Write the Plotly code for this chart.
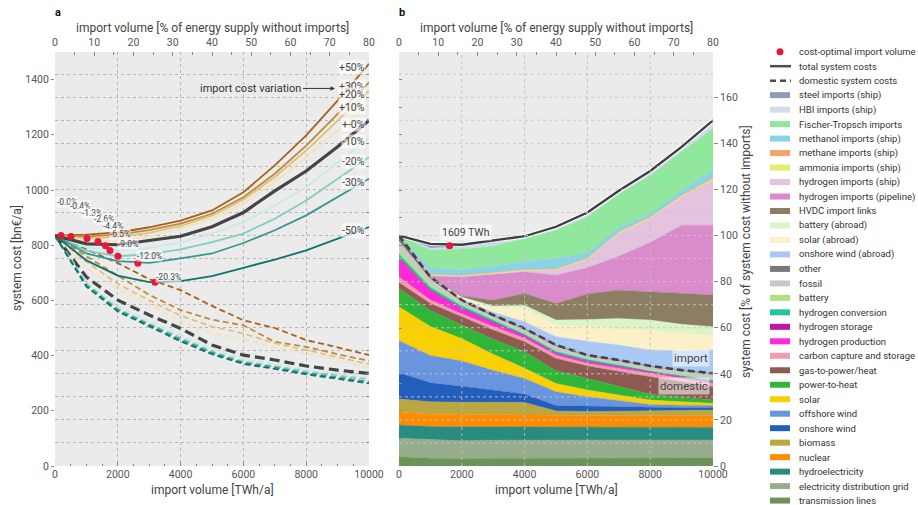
import plotly.graph_objects as go

W, H = 918, 505
FONT = "Roboto"

# ---------------------------------------------------------------- data
volume = [0, 1000, 2000, 3000, 4000, 5000, 6000, 7000, 8000, 9000, 10000]  # TWh/a
base_cost = 835  # bn€/a, system cost without imports
volume_pct_max = 80  # import volume 10000 TWh/a in % of energy supply without imports

variations = ["+50%", "+30%", "+20%", "+10%", "+-0%", "-10%", "-20%", "-30%", "-50%"]
variation_colors = ["#a6611a", "#c28a38", "#dfc27d", "#f3e3b8", "#444444",
                    "#c7eae5", "#80cdc1", "#35978f", "#0f7367"]

# total system cost [bn€/a] per import cost variation (+-0% comes from the breakdown)
total_p50 = [835, 838, 846, 865, 889, 926, 992, 1089, 1198, 1324, 1457]
total_p30 = [835, 831, 838, 855, 878, 914, 974, 1059, 1161, 1276, 1390]
total_p20 = [835, 825, 830, 845, 870, 907, 965, 1047, 1143, 1252, 1360]
total_p10 = [835, 813, 816, 832, 860, 895, 950, 1029, 1119, 1216, 1312]
total_m10 = [835, 792, 781, 790, 810, 842, 884, 944, 1010, 1101, 1189]
total_m20 = [835, 780, 760, 768, 785, 811, 842, 896, 962, 1041, 1119]
total_m30 = [835, 770, 742, 736, 752, 770, 808, 854, 908, 974, 1041]
total_m50 = [835, 745, 690, 666, 670, 688, 718, 748, 781, 824, 866]

# domestic system cost [bn€/a] per import cost variation
domestic_p50 = [835, 785, 735, 677, 637, 580, 528, 500, 456, 430, 402]
domestic_p30 = [835, 760, 690, 620, 565, 530, 510, 450, 432, 405, 381]
domestic_p20 = [835, 740, 660, 600, 545, 505, 480, 445, 420, 395, 369]
domestic_p10 = [835, 720, 640, 585, 525, 480, 460, 430, 408, 385, 356]
domestic_m10 = [835, 668, 580, 525, 475, 425, 385, 370, 348, 335, 321]
domestic_m20 = [835, 660, 570, 515, 465, 415, 378, 362, 342, 328, 314]
domestic_m30 = [835, 655, 565, 510, 458, 410, 374, 357, 336, 321, 305]
domestic_m50 = [835, 650, 560, 505, 452, 405, 370, 352, 332, 316, 299]

# cost-optimal import volume [TWh/a] and cost change [%] per variation
opt_volume = [190, 510, 1020, 1370, 1609, 1750, 2005, 2640, 3185]
opt_change = [-0.0, -0.4, -1.3, -2.6, -4.4, -6.5, -9.0, -12.0, -20.3]

# cost breakdown for +-0%, % of system cost without imports
transmission_lines = [4.0, 3.4, 3.3, 3.3, 3.3, 3.3, 3.3, 3.3, 3.3, 3.3, 3.5]
distribution_grid = [8.0, 8.1, 7.7, 7.9, 8.0, 8.0, 8.0, 8.0, 8.0, 8.0, 7.8]
hydroelectricity = [5.8, 5.6, 6.0, 5.8, 5.5, 5.5, 5.5, 5.5, 5.5, 5.5, 5.5]
nuclear = [5.6, 5.4, 5.5, 5.3, 5.3, 5.1, 5.1, 5.1, 5.1, 5.1, 5.0]
biomass = [5.7, 5.4, 5.2, 5.3, 5.5, 2.0, 1.7, 1.9, 2.1, 2.2, 2.5]
onshore_wind = [11.4, 8.2, 6.9, 5.4, 3.6, 2.3, 2.4, 1.8, 1.3, 1.2, 1.0]
offshore_wind = [13.9, 11.9, 11.0, 8.5, 6.8, 6.0, 4.1, 2.7, 1.4, 1.1, 0.9]
solar = [14.7, 12.5, 9.7, 7.0, 4.4, 3.6, 2.9, 2.5, 1.9, 1.5, 1.0]
power_to_heat = [7.9, 7.0, 5.9, 6.5, 7.2, 5.5, 5.0, 3.7, 2.5, 1.9, 1.4]
gas_to_power = [2.6, 3.0, 3.6, 4.0, 4.3, 5.4, 5.4, 6.5, 7.6, 6.8, 5.8]
carbon_capture = [2.4, 1.5, 1.2, 1.5, 1.5, 1.4, 1.1, 1.4, 1.5, 1.4, 1.5]
h2_production = [8.0, 4.0, 2.1, 1.7, 1.0, 0.7, 0.8, 0.6, 0.4, 0.4, 0.3]
h2_storage = [0.5, 0.4, 0.3, 0.3, 0.2, 0.2, 0.2, 0.2, 0.2, 0.2, 0.2]
h2_conversion = [1.5, 1.2, 1.1, 1.0, 0.7, 0.8, 0.8, 0.7, 0.5, 0.7, 0.9]
battery = [2.0, 1.0, 0.5, 0.4, 0.3, 0.3, 0.2, 0.2, 0.2, 0.2, 0.2]
fossil = [3.5, 2.5, 1.5, 1.2, 1.6, 1.9, 1.2, 1.5, 1.5, 1.7, 2.2]
other = [2.5, 0.9, 0.5, 0.4, 0.5, 0.5, 0.4, 0.4, 0.4, 0.4, 0.5]

onwind_abroad = [0, 0, 0.3, 1.2, 2.9, 3.6, 6.0, 6.5, 6.9, 8.4, 10.1]
solar_abroad = [0, 0, 0.7, 2.0, 5.8, 5.0, 6.5, 7.2, 8.7, 7.5, 6.5]
battery_abroad = [0, 0, 0.3, 0.7, 1.4, 2.2, 3.0, 4.3, 4.3, 4.0, 3.6]
hvdc_links = [0, 0, 0.5, 2.5, 5.1, 7.2, 11.0, 12.3, 12.3, 13.5, 13.8]
h2_pipeline = [0, 0.6, 8.3, 11.3, 9.4, 12.3, 11.4, 14.7, 21.4, 29.5, 30.3]
h2_ship = [0, 0, 0.1, 0.2, 0.3, 2.2, 3.5, 10.0, 10.4, 12.3, 19.5]
ammonia_ship = [0, 0.5, 0.5, 0.5, 0.5, 0.5, 0.5, 0.5, 0.5, 0.5, 0.6]
methane_ship = [0, 0.1, 0.1, 0.1, 0.1, 0.1, 0.2, 0.2, 0.2, 0.3, 0.6]
methanol_ship = [0, 2.8, 2.4, 2.7, 3.4, 4.4, 2.3, 1.8, 1.5, 2.0, 3.2]
fischer_tropsch = [0, 7.7, 9.0, 8.8, 10.1, 12.3, 15.5, 14.5, 16.4, 16.9, 18.0]
hbi_ship = [0, 0.9, 0.8, 1.2, 0.6, 1.0, 1.3, 1.0, 1.3, 1.3, 2.5]
steel_ship = [0, 1.8, 1.0, 1.0, 0.4, 0.5, 0.7, 0.4, 0.7, 0.7, 1.1]

domestic_layers = [
    ("transmission lines", "#6c9459", transmission_lines),
    ("electricity distribution grid", "#97ad8c", distribution_grid),
    ("hydroelectricity", "#298c81", hydroelectricity),
    ("nuclear", "#ff8c00", nuclear),
    ("biomass", "#baa741", biomass),
    ("onshore wind", "#235ebc", onshore_wind),
    ("offshore wind", "#6895dd", offshore_wind),
    ("solar", "#f9d002", solar),
    ("power-to-heat", "#2fb537", power_to_heat),
    ("gas-to-power/heat", "#8f5a52", gas_to_power),
    ("carbon capture and storage", "#f29dae", carbon_capture),
    ("hydrogen production", "#ff29d9", h2_production),
    ("hydrogen storage", "#bf13a0", h2_storage),
    ("hydrogen conversion", "#22c69a", h2_conversion),
    ("battery", "#ace37f", battery),
    ("fossil", "#c8c8c8", fossil),
    ("other", "#787878", other),
]
import_layers = [
    ("onshore wind (abroad)", "#a9c8f5", onwind_abroad),
    ("solar (abroad)", "#fbf0c8", solar_abroad),
    ("battery (abroad)", "#dcf5c8", battery_abroad),
    ("HVDC import links", "#8b7e63", hvdc_links),
    ("hydrogen imports (pipeline)", "#d98bcc", h2_pipeline),
    ("hydrogen imports (ship)", "#e3c3de", h2_ship),
    ("ammonia imports (ship)", "#e4ed6d", ammonia_ship),
    ("methane imports (ship)", "#f4a36c", methane_ship),
    ("methanol imports (ship)", "#8ad2e6", methanol_ship),
    ("Fischer-Tropsch imports", "#8fe89c", fischer_tropsch),
    ("HBI imports (ship)", "#d2dcec", hbi_ship),
    ("steel imports (ship)", "#8e9cba", steel_ship),
]

n = len(volume)
domestic_pct = [sum(v[i] for _, _, v in domestic_layers) for i in range(n)]
total_pct = [domestic_pct[i] + sum(v[i] for _, _, v in import_layers) for i in range(n)]
total_p0 = [base_cost * p / 100 for p in total_pct]
domestic_p0 = [base_cost * p / 100 for p in domestic_pct]

totals = [total_p50, total_p30, total_p20, total_p10, total_p0,
          total_m10, total_m20, total_m30, total_m50]
domestics = [domestic_p50, domestic_p30, domestic_p20, domestic_p10, domestic_p0,
             domestic_m10, domestic_m20, domestic_m30, domestic_m50]

Y_MAX = 1500
PCT_MAX = Y_MAX / base_cost * 100

# ---------------------------------------------------------------- geometry
LX0, LX1, RX0, RX1 = 55, 369, 399, 713
PY0, PY1 = 52, 466


def fx(px):
    return px / W


def fy(py):
    return 1 - py / H


TXT = "#444444"
TICK = "#555555"
GRID = "#b8b8b8"
RED = "#e8173c"

fig = go.Figure()

# ---------------------------------------------------------------- panel a
for name, col, dom in zip(variations, variation_colors, domestics):
    black = name == "+-0%"
    fig.add_trace(go.Scatter(
        x=volume, y=dom, mode="lines", xaxis="x", yaxis="y",
        line=dict(color=col, width=3.2 if black else 1.8,
                  dash="10px,5px" if black else "6px,3.5px"),
        showlegend=False, hoverinfo="skip"))

order = [0, 1, 2, 3, 5, 6, 7, 8, 4]
for k in order:
    black = variations[k] == "+-0%"
    fig.add_trace(go.Scatter(
        x=volume, y=totals[k], mode="lines", xaxis="x", yaxis="y",
        line=dict(color=variation_colors[k], width=3.2 if black else 1.8),
        showlegend=False, hoverinfo="skip"))

opt_cost = [base_cost * (1 + c / 100) for c in opt_change]
fig.add_trace(go.Scatter(
    x=opt_volume, y=opt_cost, mode="markers", xaxis="x", yaxis="y",
    marker=dict(color=RED, size=7), showlegend=False, hoverinfo="skip"))

# empty traces to instantiate overlay axes
fig.add_trace(go.Scatter(x=[], y=[], xaxis="x2", yaxis="y2", showlegend=False))
fig.add_trace(go.Scatter(x=[], y=[], xaxis="x4", yaxis="y4", showlegend=False))

# ---------------------------------------------------------------- panel b
for name, col, vals in domestic_layers + import_layers:
    fig.add_trace(go.Scatter(
        x=volume, y=vals, mode="lines", xaxis="x3", yaxis="y3",
        stackgroup="costs", line=dict(width=0.4, color=col), fillcolor=col,
        showlegend=False, hoverinfo="skip"))

fig.add_trace(go.Scatter(
    x=volume, y=total_pct, mode="lines", xaxis="x3", yaxis="y3",
    line=dict(color="rgba(255,255,255,0.8)", width=4.5),
    showlegend=False, hoverinfo="skip"))
fig.add_trace(go.Scatter(
    x=volume, y=total_pct, mode="lines", xaxis="x3", yaxis="y3",
    line=dict(color="#3d3d3d", width=2.3), showlegend=False, hoverinfo="skip"))
fig.add_trace(go.Scatter(
    x=volume, y=domestic_pct, mode="lines", xaxis="x3", yaxis="y3",
    line=dict(color="#444444", width=2.6, dash="7px,4px"),
    showlegend=False, hoverinfo="skip"))
base_idx = variations.index("+-0%")
fig.add_trace(go.Scatter(
    x=[opt_volume[base_idx]], y=[100 + opt_change[base_idx]], mode="markers",
    xaxis="x3", yaxis="y3", marker=dict(color=RED, size=7),
    showlegend=False, hoverinfo="skip"))

# ---------------------------------------------------------------- axes
tickfont = dict(family=FONT, size=10.5, color=TICK)
dom_l = [fx(LX0), fx(LX1)]
dom_r = [fx(RX0), fx(RX1)]
dom_y = [fy(PY1), fy(PY0)]

common_x = dict(range=[0, 10000], dtick=2000, tickformat="d", ticks="inside",
                ticklen=4, tickcolor="#888", tickfont=tickfont, showgrid=True,
                gridcolor=GRID, griddash="dot", gridwidth=1, zeroline=False,
                showline=False, automargin=False,
                minor=dict(dtick=500, ticks="inside", ticklen=2.5, tickcolor="#888"))
common_top = dict(range=[0, volume_pct_max], dtick=10, ticks="inside", ticklen=4,
                  tickcolor="#888", tickfont=tickfont, showgrid=False,
                  zeroline=False, side="top", automargin=False, showline=False,
                  ticklabelstandoff=3,
                  minor=dict(dtick=5, ticks="inside", ticklen=2.5, tickcolor="#888"))

fig.update_layout(
    template="none",
    xaxis=dict(domain=dom_l, anchor="y", **common_x),
    xaxis2=dict(overlaying="x", anchor="y", **common_top),
    yaxis=dict(domain=dom_y, anchor="x", range=[0, Y_MAX], dtick=200,
               ticks="outside", ticklen=3, tickcolor="#888", tickfont=tickfont,
               showgrid=False, zeroline=False, showline=False, automargin=False),
    yaxis2=dict(overlaying="y", anchor="x", side="right", range=[0, PCT_MAX],
                dtick=10, ticks="inside", ticklen=3, tickcolor="#888",
                showticklabels=False, showgrid=True, gridcolor=GRID,
                griddash="dot", zeroline=False, showline=False, automargin=False),
    xaxis3=dict(domain=dom_r, anchor="y3", **{**common_x, "showgrid": False}),
    xaxis4=dict(overlaying="x3", anchor="y3", **common_top),
    yaxis3=dict(domain=dom_y, anchor="x3", side="right", range=[0, PCT_MAX],
                dtick=20, ticks="outside", ticklen=4, tickcolor="#888",
                tickfont=tickfont, showgrid=False, zeroline=False, showline=False,
                automargin=False),
    yaxis4=dict(overlaying="y3", anchor="x3", side="left", range=[0, Y_MAX],
                dtick=100, ticks="inside", ticklen=3, tickcolor="#888",
                showticklabels=False, showgrid=False, zeroline=False,
                showline=False, automargin=False),
    plot_bgcolor="#ebebeb",
    paper_bgcolor="white",
    width=W, height=H,
    margin=dict(l=0, r=0, t=0, b=0, autoexpand=False),
    font=dict(family=FONT, color=TXT),
    showlegend=False,
)

# grid on top of the stacked areas in panel b
shapes = []
p = 10
while p < PCT_MAX:
    shapes.append(dict(type="line", xref="x3", yref="y3", x0=0, x1=10000, y0=p, y1=p,
                       line=dict(color="rgba(200,200,200,0.85)", width=1, dash="dot"),
                       layer="above"))
    p += 10
for v in range(2000, 10000, 2000):
    shapes.append(dict(type="line", xref="x3", yref="y3", x0=v, x1=v, y0=0, y1=PCT_MAX,
                       line=dict(color="rgba(190,190,190,0.85)", width=1, dash="dot"),
                       layer="above"))

annotations = []


def paper_text(px, py, text, size, color=TXT, angle=0, xanchor="center"):
    annotations.append(dict(x=fx(px), y=fy(py), xref="paper", yref="paper",
                            text=text, showarrow=False, textangle=angle,
                            xanchor=xanchor, yanchor="middle",
                            font=dict(size=size, color=color)))


# labels of the cost-optimal points
label_shift = [(6, 34), (9, 30), (5, 26), (6, 23), (7, 20), (10, 17), (10, 12), (12, 7), (13, 5)]
for v, c, chg, (dx, dy) in zip(opt_volume, opt_cost, opt_change, label_shift):
    annotations.append(dict(
        x=v, y=c, xref="x", yref="y", text=f"{chg:.1f}%", showarrow=False,
        xanchor="center", yanchor="middle", xshift=dx, yshift=dy,
        font=dict(size=8.5, color=TXT), bgcolor="rgba(255,255,255,0.6)", borderpad=0))

# variation labels at line ends
for name, tot in zip(variations, totals):
    annotations.append(dict(
        x=10000, y=tot[-1], xref="x", yref="y", text=name, showarrow=False,
        xanchor="right", yanchor="middle", xshift=-3, yshift=-4,
        font=dict(size=10.5, color=TXT), bgcolor="rgba(255,255,255,0.65)", borderpad=0))

annotations.append(dict(
    x=8917, y=1368, xref="x", yref="y", text="import cost variation",
    showarrow=True, ax=-84, ay=0, arrowhead=2, arrowsize=0.9, arrowwidth=1,
    arrowcolor="#333", font=dict(size=11, color="#333")))

# panel b labels
annotations.append(dict(
    x=opt_volume[base_idx], y=100 + opt_change[base_idx], xref="x3", yref="y3",
    text=f"{opt_volume[base_idx]} TWh", showarrow=False, xanchor="center",
    yanchor="middle", xshift=16, yshift=13,
    font=dict(size=10.5, color=TXT), bgcolor="rgba(255,255,255,0.6)", borderpad=1))
annotations.append(dict(
    x=9904, y=46.7, xref="x3", yref="y3", text="import", showarrow=False,
    xanchor="right", yanchor="middle", font=dict(size=11.5, color=TXT),
    bgcolor="rgba(255,255,255,0.55)", borderpad=1))
annotations.append(dict(
    x=9904, y=34.8, xref="x3", yref="y3", text="domestic", showarrow=False,
    xanchor="right", yanchor="middle", font=dict(size=11.5, color=TXT),
    bgcolor="rgba(255,255,255,0.55)", borderpad=1))

# panel letters and axis titles
paper_text(58, 12, "<b>a</b>", 11, "#111")
paper_text(402, 12, "<b>b</b>", 11, "#111")
for cx in ((LX0 + LX1) / 2, (RX0 + RX1) / 2):
    paper_text(cx, 28, "import volume [% of energy supply without imports]", 12)
    paper_text(cx, 490, "import volume [TWh/a]", 12)
paper_text(17, 258, "system cost [bn€/a]", 12, angle=-90)
paper_text(746, 252, "system cost [% of system cost without imports]", 12, angle=-90)

# ---------------------------------------------------------------- legend
legend_entries = [("cost-optimal import volume", "dot", RED),
                  ("total system costs", "line", "#4d4d4d"),
                  ("domestic system costs", "dash", "#4d4d4d")]
legend_entries += [(nm, "patch", col) for nm, col, _ in reversed(import_layers)]
legend_entries += [(nm, "patch", col) for nm, col, _ in reversed(domestic_layers)]

LEG_X0, LEG_X1, LEG_TX = 770, 790, 797
LEG_Y0, LEG_DY = 51.7, 14.48
for i, (label, kind, col) in enumerate(legend_entries):
    yc = LEG_Y0 + i * LEG_DY
    if kind == "dot":
        shapes.append(dict(type="circle", xref="paper", yref="paper",
                           x0=fx(776.5), x1=fx(783.5), y0=fy(yc + 3.5), y1=fy(yc - 3.5),
                           fillcolor=col, line=dict(width=0)))
    elif kind in ("line", "dash"):
        shapes.append(dict(type="line", xref="paper", yref="paper",
                           x0=fx(LEG_X0), x1=fx(LEG_X1 + 1), y0=fy(yc), y1=fy(yc),
                           line=dict(color=col, width=2.5,
                                     dash="6px,4px" if kind == "dash" else "solid")))
    else:
        shapes.append(dict(type="rect", xref="paper", yref="paper",
                           x0=fx(LEG_X0), x1=fx(LEG_X1), y0=fy(yc + 3), y1=fy(yc - 3),
                           fillcolor=col, line=dict(width=0)))
    paper_text(LEG_TX, yc, label, 9.5, "#333", xanchor="left")

fig.update_layout(shapes=shapes, annotations=annotations)
fig.write_html("out.html")
